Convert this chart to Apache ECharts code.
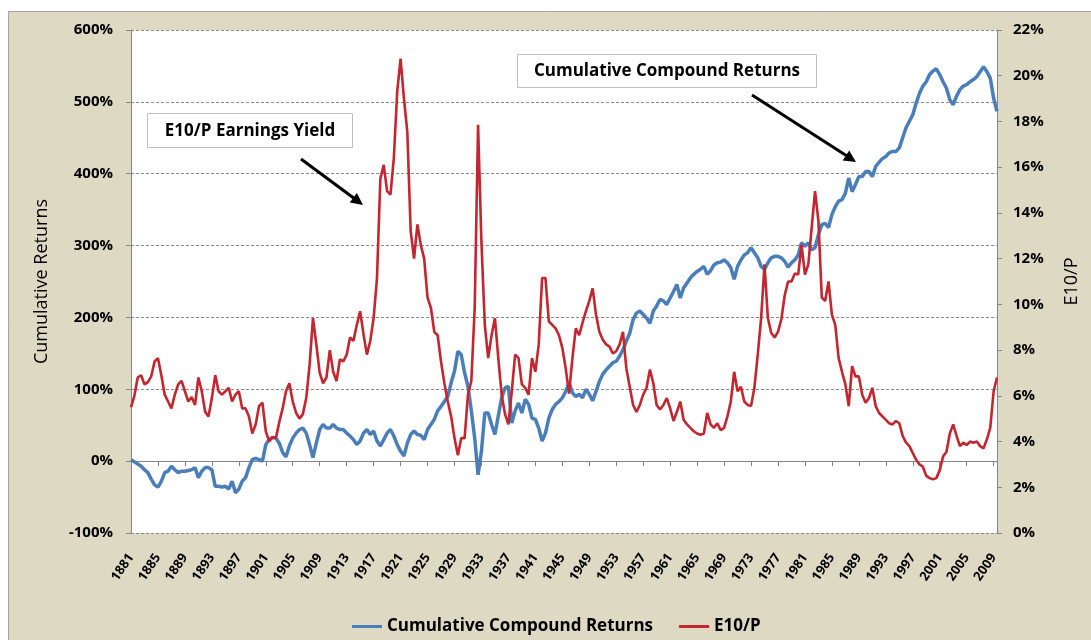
<!DOCTYPE html>
<html lang="en">
<head>
	<meta charset="UTF-8">
	<title>Cumulative Returns and E10/P</title>
	<style type="text/css">
		html, body{ margin:0; padding:0; background:#fff; }
		#main{ width:1091px; height:640px; }
	</style>
</head>
<body>
	<div id="main"></div>
	<script type="text/javascript" src="https://cdn.jsdelivr.net/npm/echarts@6.0.0/dist/echarts.min.js"></script>
	<script type="text/javascript">
		// half-year samples, 1881.0 .. 2009.5
		var firstYear = 1881;
		var lastYear = 2009.5;
		var tickYears = ['1881','1885','1889','1893','1897','1901','1905','1909','1913','1917','1921','1925','1929',
			'1933','1937','1941','1945','1949','1953','1957','1961','1965','1969','1973','1977','1981','1985',
			'1989','1993','1997','2001','2005','2009'];
		var leftTicks = [-100, 0, 100, 200, 300, 400, 500, 600];
		var rightTicks = [0, 2, 4, 6, 8, 10, 12, 14, 16, 18, 20, 22];

		// Cumulative Compound Returns (%)
		var cumulativeReturns = [
			2, -1, -4, -7, -12, -16, -25, -33, -36, -28,
			-16, -14, -7, -12, -16, -14, -14, -13, -12, -9,
			-23, -14, -9, -9, -12, -35, -35, -36, -35, -39,
			-28, -44, -39, -28, -23, -9, 2, 4, 2, 0,
			23, 30, 33, 32, 25, 12, 6, 21, 32, 39,
			44, 46, 39, 23, 5, 25, 44, 51, 46, 46,
			51, 46, 44, 44, 39, 35, 30, 23, 28, 39,
			44, 37, 42, 28, 21, 30, 39, 44, 35, 23,
			14, 7, 25, 37, 42, 37, 36, 30, 44, 51,
			58, 70, 76, 83, 90, 109, 125, 153, 148, 123,
			104, 70, 32, -19, 14, 67, 67, 51, 37, 63,
			88, 102, 104, 53, 70, 81, 67, 86, 79, 60,
			58, 46, 28, 39, 60, 72, 79, 83, 88, 97,
			109, 95, 90, 93, 88, 100, 93, 84, 97, 111,
			121, 127, 132, 137, 139, 146, 155, 167, 178, 197,
			206, 209, 204, 199, 192, 209, 216, 225, 223, 218,
			227, 236, 246, 227, 241, 248, 255, 260, 264, 267,
			271, 260, 265, 273, 276, 277, 280, 276, 269, 253,
			271, 280, 287, 290, 297, 290, 283, 271, 267, 276,
			283, 285, 285, 283, 278, 270, 276, 280, 287, 304,
			299, 304, 294, 297, 315, 329, 331, 325, 343, 354,
			362, 364, 373, 394, 375, 385, 396, 396, 403, 403,
			396, 410, 416, 421, 424, 429, 431, 431, 436, 450,
			464, 473, 482, 498, 512, 522, 528, 538, 543, 546,
			538, 528, 519, 503, 496, 508, 517, 522, 524, 528,
			531, 535, 542, 549, 542, 533, 505, 487
		];

		// E10/P earnings yield (%)
		var e10pYield = [
			5.5, 6.0, 6.8, 6.9, 6.5, 6.6, 6.85, 7.5, 7.65, 6.9,
			6.05, 5.75, 5.45, 6.05, 6.5, 6.65, 6.2, 5.75, 5.95, 5.6,
			6.8, 6.2, 5.3, 5.1, 5.9, 6.9, 6.2, 6.05, 6.2, 6.35,
			5.75, 6.05, 6.2, 5.45, 5.45, 5.1, 4.35, 4.75, 5.55, 5.7,
			4.45, 4.0, 4.2, 4.15, 4.85, 5.45, 6.2, 6.55, 5.75, 5.25,
			5.0, 5.2, 5.9, 7.35, 9.4, 8.25, 7.0, 6.55, 6.8, 8.0,
			7.05, 6.65, 7.6, 7.5, 7.8, 8.55, 8.4, 9.1, 9.7, 8.7,
			7.8, 8.4, 9.4, 11.15, 15.5, 16.1, 14.95, 14.8, 16.4, 19.3,
			20.75, 19.0, 17.55, 13.2, 12.0, 13.5, 12.6, 12.0, 10.3, 9.85,
			8.8, 8.65, 7.5, 6.55, 5.75, 5.1, 4.15, 3.4, 4.15, 4.15,
			6.05, 6.65, 9.85, 17.85, 12.7, 9.1, 7.65, 8.65, 9.4, 7.65,
			6.05, 5.2, 4.75, 6.2, 7.8, 7.65, 6.5, 6.35, 6.05, 7.65,
			7.05, 8.25, 11.15, 11.15, 9.25, 9.1, 8.95, 8.65, 8.1, 7.2,
			6.1, 7.65, 8.95, 8.65, 9.2, 9.7, 10.15, 10.7, 9.55, 8.8,
			8.45, 8.25, 8.15, 7.85, 7.95, 8.25, 8.8, 7.2, 6.4, 5.6,
			5.3, 5.6, 6.05, 6.35, 7.15, 6.55, 5.6, 5.4, 5.6, 5.9,
			5.45, 4.9, 5.3, 5.75, 4.95, 4.75, 4.6, 4.45, 4.35, 4.3,
			4.35, 5.25, 4.75, 4.6, 4.8, 4.5, 4.6, 5.1, 5.75, 7.05,
			6.2, 6.4, 5.75, 5.6, 5.55, 6.35, 7.8, 9.4, 11.75, 9.4,
			8.75, 8.55, 8.8, 9.35, 10.4, 11.0, 11.0, 11.35, 11.3, 12.6,
			11.3, 11.75, 13.35, 14.95, 13.65, 10.3, 10.15, 11.0, 9.55, 9.1,
			7.65, 7.05, 6.5, 5.55, 7.3, 6.85, 6.85, 6.05, 5.7, 5.9,
			6.35, 5.55, 5.25, 5.1, 4.95, 4.8, 4.75, 4.9, 4.8, 4.25,
			3.95, 3.8, 3.5, 3.2, 3.0, 2.9, 2.5, 2.4, 2.35, 2.4,
			2.75, 3.35, 3.55, 4.35, 4.75, 4.25, 3.8, 3.95, 3.85, 4.0,
			3.95, 4.0, 3.8, 3.7, 4.1, 4.6, 6.2, 6.8
		];

		// category per half year, labelled on whole years
		var categories = [];
		for (var y = firstYear; y <= lastYear; y += 0.5) {
			categories.push(y % 1 === 0 ? String(y) : String(Math.floor(y)) + 'H2');
		}

		var myChart = echarts.init(document.getElementById('main'));
		var font = '"Open Sans", Lato, sans-serif';
		var gray = '#868686';

		var option = {
			backgroundColor: '#ddd9c3',
			animation: false,
			textStyle: { fontFamily: font },
			grid: {
				left: 131, right: 94, top: 30, bottom: 107,
				show: true, backgroundColor: '#fff', borderWidth: 0
			},
			legend: {
				left: 347, top: 613,
				icon: 'rect', itemWidth: 30, itemHeight: 3, itemGap: 26,
				textStyle: { fontFamily: font, fontSize: 17, fontWeight: 'bold', color: '#000' },
				data: ['Cumulative Compound Returns', 'E10/P']
			},
			xAxis: {
				type: 'category',
				data: categories,
				boundaryGap: false,
				axisLine: { lineStyle: { color: gray, width: 1 } },
				axisTick: {
					interval: function (i, v) { return tickYears.indexOf(v) >= 0; },
					length: 5, lineStyle: { color: gray }
				},
				axisLabel: {
					interval: function (i, v) { return tickYears.indexOf(v) >= 0; },
					rotate: 56, margin: 22,
					fontFamily: font, fontSize: 13, fontWeight: 'bold', color: '#000'
				},
				splitLine: { show: false }
			},
			yAxis: [
				{
					type: 'value',
					min: leftTicks[0], max: leftTicks[leftTicks.length - 1], interval: 100,
					name: 'Cumulative Returns',
					nameLocation: 'middle', nameGap: 80, nameRotate: 90,
					nameTextStyle: { fontFamily: font, fontSize: 18, color: '#000' },
					axisLine: { show: true, lineStyle: { color: gray } },
					axisTick: { show: true, length: 5, lineStyle: { color: gray } },
					axisLabel: { margin: 18, formatter: '{value}%', fontFamily: font, fontSize: 15, fontWeight: 'bold', color: '#000' },
					splitLine: { show: true, lineStyle: { color: '#8c8c8c', width: 1, type: [3, 2] } }
				},
				{
					type: 'value',
					min: rightTicks[0], max: rightTicks[rightTicks.length - 1], interval: 2,
					name: 'E10/P',
					nameLocation: 'middle', nameGap: 66, nameRotate: 90,
					nameTextStyle: { fontFamily: font, fontSize: 18, color: '#000' },
					axisLine: { show: true, lineStyle: { color: gray } },
					axisTick: { show: true, length: 5, lineStyle: { color: gray } },
					axisLabel: { margin: 16, formatter: '{value}%', fontFamily: font, fontSize: 15, fontWeight: 'bold', color: '#000' },
					splitLine: { show: false }
				}
			],
			series: [
				{
					name: 'Cumulative Compound Returns',
					type: 'line',
					yAxisIndex: 0,
					data: cumulativeReturns,
					showSymbol: false,
					color: '#4a7ebb',
					lineStyle: { color: '#4a7ebb', width: 3.5 },
					z: 3
				},
				{
					name: 'E10/P',
					type: 'line',
					yAxisIndex: 1,
					data: e10pYield,
					showSymbol: false,
					color: '#c3262e',
					lineStyle: { color: '#c3262e', width: 2.6 },
					z: 4
				}
			],
			graphic: [
				// white margin round the chart area
				{ type: 'rect', shape: { x: 0, y: 0, width: 1091, height: 11 }, style: { fill: '#fff' }, silent: true },
				{ type: 'rect', shape: { x: 0, y: 0, width: 8, height: 640 }, style: { fill: '#fff' }, silent: true },
				{ type: 'line', shape: { x1: 8, y1: 11.5, x2: 1091, y2: 11.5 }, style: { stroke: '#a6a6a6', lineWidth: 1 }, silent: true },
				{ type: 'line', shape: { x1: 8.5, y1: 11, x2: 8.5, y2: 640 }, style: { stroke: '#a6a6a6', lineWidth: 1 }, silent: true },

				// callout: E10/P Earnings Yield
				{ type: 'rect', z: 10, shape: { x: 147.5, y: 113.5, width: 205, height: 34 }, style: { fill: '#fff', stroke: '#bfbfbf', lineWidth: 1 } },
				{ type: 'text', z: 11, x: 250, y: 131, style: { text: 'E10/P Earnings Yield', fontFamily: font, fontSize: 17, fontWeight: 'bold', fill: '#000', align: 'center', verticalAlign: 'middle' } },
				{ type: 'line', z: 10, shape: { x1: 301, y1: 159, x2: 355, y2: 199 }, style: { stroke: '#000', lineWidth: 3 } },
				{ type: 'polygon', z: 10, shape: { points: [[363, 205], [349.7, 202.6], [356.9, 193]] }, style: { fill: '#000' } },

				// callout: Cumulative Compound Returns
				{ type: 'rect', z: 10, shape: { x: 517.5, y: 54.5, width: 299, height: 33 }, style: { fill: '#fff', stroke: '#bfbfbf', lineWidth: 1 } },
				{ type: 'text', z: 11, x: 667, y: 71, style: { text: 'Cumulative Compound Returns', fontFamily: font, fontSize: 17, fontWeight: 'bold', fill: '#000', align: 'center', verticalAlign: 'middle' } },
				{ type: 'line', z: 10, shape: { x1: 752, y1: 95, x2: 847, y2: 156 }, style: { stroke: '#000', lineWidth: 3 } },
				{ type: 'polygon', z: 10, shape: { points: [[856, 162], [842.7, 160.5], [849.2, 150.4]] }, style: { fill: '#000' } }
			]
		};

		myChart.setOption(option);
	</script>
</body>
</html>
